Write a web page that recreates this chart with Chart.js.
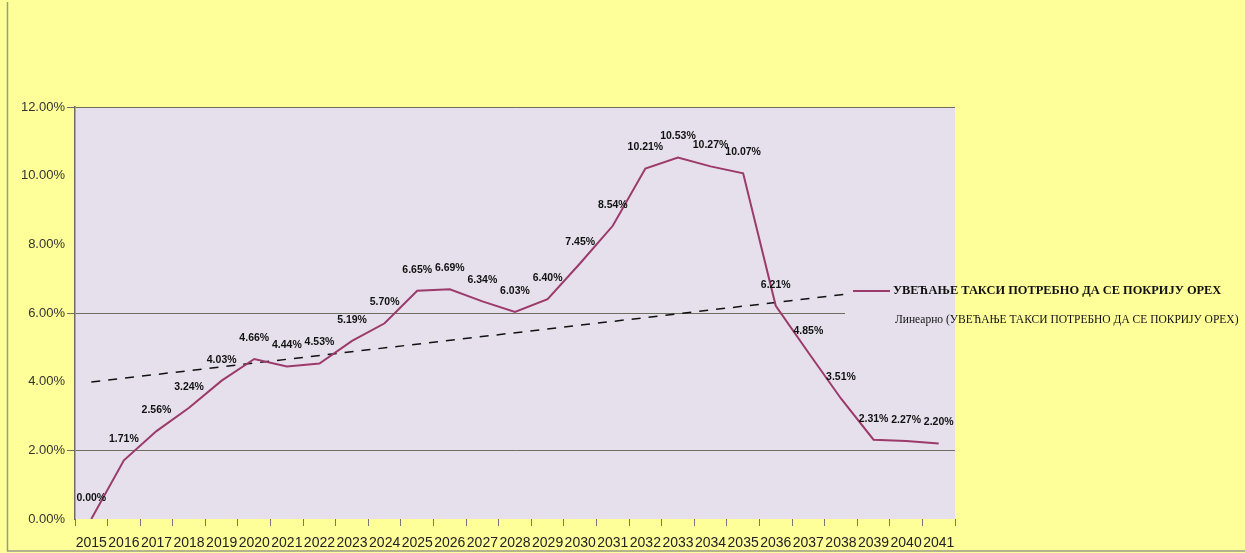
<!DOCTYPE html>
<html>
<head>
<meta charset="utf-8">
<script src="https://cdn.jsdelivr.net/npm/chart.js@4.4.1/dist/chart.umd.min.js"></script>
<style>
  body { margin: 0; background: #ffff99; }
  #wrap { width: 1245px; height: 553px; position: relative; }
</style>
</head>
<body>
<div id="wrap"><canvas id="c"></canvas></div>
<script>
// years on the x axis
var years = ['2015', '2016', '2017', '2018', '2019', '2020', '2021', '2022', '2023', '2024',
    '2025', '2026', '2027', '2028', '2029', '2030', '2031', '2032', '2033', '2034',
    '2035', '2036', '2037', '2038', '2039', '2040', '2041'];

// increase of fees needed to cover OPEX, in %
var increase = [0.00, 1.71, 2.56, 3.24, 4.03, 4.66, 4.44, 4.53, 5.19, 5.70,
    6.65, 6.69, 6.34, 6.03, 6.40, 7.45, 8.54, 10.21, 10.53, 10.27,
    10.07, 6.21, 4.85, 3.51, 2.31, 2.27, 2.20];

// linear trend, end points
var trendStart = 3.99;
var trendEnd = 6.86;

var yTicks = [0, 2, 4, 6, 8, 10, 12];
var yGridShown = [2, 6, 12];

var seriesName = 'УВЕЋАЊЕ ТАКСИ ПОТРЕБНО ДА СЕ ПОКРИЈУ OPEX';
var trendName = 'Линеарно (УВЕЋАЊЕ ТАКСИ ПОТРЕБНО ДА СЕ ПОКРИЈУ OPEX)';

var trend = years.map(function(y, i) {
    if (i == 0) return trendStart;
    if (i == years.length - 1) return trendEnd;
    return null;
});

var backgrounds = {
    id: 'backgrounds',
    beforeDraw: function(chart) {
        var ctx = chart.ctx, a = chart.chartArea;
        ctx.save();
        ctx.fillStyle = '#ffff99';
        ctx.fillRect(0, 0, chart.width, chart.height);
        ctx.fillStyle = '#e6e0ec';
        ctx.fillRect(a.left, a.top, a.right - a.left, a.bottom - a.top);
        // outer frame, left and bottom
        ctx.strokeStyle = '#9a9a8a';
        ctx.lineWidth = 1.5;
        ctx.beginPath();
        ctx.moveTo(7.5, 2);
        ctx.lineTo(7.5, chart.height - 2);
        ctx.lineTo(chart.width, chart.height - 2);
        ctx.stroke();
        ctx.restore();
    }
};

var pointLabels = {
    id: 'pointLabels',
    afterDatasetsDraw: function(chart) {
        var ctx = chart.ctx;
        var meta = chart.getDatasetMeta(0);
        ctx.save();
        ctx.font = 'bold 10.5px "Liberation Sans", Arial, sans-serif';
        ctx.fillStyle = '#111';
        ctx.textAlign = 'center';
        ctx.textBaseline = 'middle';
        meta.data.forEach(function(pt, i) {
            ctx.fillText(increase[i].toFixed(2) + '%', pt.x, pt.y - 21);
        });
        ctx.restore();
    }
};

var legendBox = {
    id: 'legendBox',
    afterDraw: function(chart) {
        var ctx = chart.ctx, a = chart.chartArea;
        ctx.save();
        ctx.fillStyle = '#e6e0ec';
        ctx.fillRect(845, 277, a.right - 845, 60);
        ctx.strokeStyle = '#9b3a6b';
        ctx.lineWidth = 2;
        ctx.beginPath();
        ctx.moveTo(853, 291);
        ctx.lineTo(890, 291);
        ctx.stroke();
        ctx.fillStyle = '#111';
        ctx.textBaseline = 'middle';
        ctx.font = 'bold 12.4px "Liberation Serif", "Times New Roman", serif';
        ctx.fillText(seriesName, 893, 291);
        ctx.font = '11.5px "Liberation Serif", "Times New Roman", serif';
        ctx.fillText(trendName, 895, 320);
        ctx.restore();
    }
};

new Chart(document.getElementById('c'), {
    type: 'line',
    data: {
        labels: years,
        datasets: [{
            label: seriesName,
            data: increase,
            borderColor: '#9b3a6b',
            borderWidth: 2,
            pointRadius: 0,
            tension: 0
        }, {
            label: trendName,
            data: trend,
            spanGaps: true,
            borderColor: '#111',
            borderWidth: 1.5,
            borderDash: [9, 8],
            pointRadius: 0
        }]
    },
    options: {
        responsive: true,
        maintainAspectRatio: false,
        animation: false,
        layout: { padding: { left: 0, right: 290, top: 107, bottom: 0 } },
        plugins: {
            legend: { display: false },
            tooltip: { enabled: false }
        },
        scales: {
            x: {
                offset: true,
                afterFit: function(s) { s.height = 34; },
                border: { display: false },
                grid: {
                    offset: true,
                    drawOnChartArea: false,
                    drawTicks: true,
                    tickLength: 7,
                    color: '#777'
                },
                ticks: {
                    autoSkip: false,
                    maxRotation: 0,
                    minRotation: 0,
                    padding: 9,
                    color: '#222',
                    font: { family: '"Liberation Sans", Arial, sans-serif', size: 14 }
                }
            },
            y: {
                min: 0,
                max: 12,
                afterFit: function(s) { s.width = 75; },
                afterBuildTicks: function(s) {
                    s.ticks = yTicks.map(function(v) { return { value: v }; });
                },
                border: { display: true, color: '#6e6e60', width: 1.5 },
                grid: {
                    tickLength: 8,
                    lineWidth: 1,
                    color: function(c) {
                        return yGridShown.indexOf(c.tick.value) >= 0 ? '#6e6e60' : 'rgba(0,0,0,0)';
                    }
                },
                ticks: {
                    padding: 2,
                    color: '#333',
                    font: { family: '"Liberation Sans", Arial, sans-serif', size: 13 },
                    callback: function(v) { return v.toFixed(2) + '%'; }
                }
            }
        }
    },
    plugins: [backgrounds, pointLabels, legendBox]
});
</script>
</body>
</html>
